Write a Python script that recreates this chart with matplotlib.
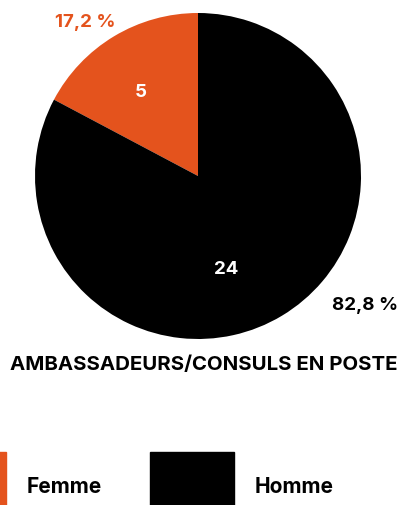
import matplotlib
matplotlib.use('Agg')
import matplotlib.pyplot as plt
from matplotlib.patches import Rectangle

plt.rcParams['font.family'] = ['Inter', 'DejaVu Sans']

# data
labels = ['Femme', 'Homme']
counts = [5, 24]
pcts = ['17,2 %', '82,8 %']
colors = ['#E4531D', '#000000']
title = 'AMBASSADEURS/CONSULS EN POSTE'

W, H = 406, 506
fig = plt.figure(figsize=(W / 100, H / 100), dpi=100)
ax = fig.add_axes([0, 0, 1, 1])

# pie in pixel-like coords (y measured up from the bottom)
cx, cy, r = 198, H - 177, 163
ax.pie(counts, colors=colors, startangle=90, counterclock=True,
       center=(cx, cy), radius=r, frame=True,
       wedgeprops=dict(linewidth=0))

ax.set_xlim(0, W)
ax.set_ylim(0, H)
ax.set_aspect('auto')
ax.axis('off')

# counts inside slices
ax.text(141, H - 92, str(counts[0]), color='white', fontsize=13.5, fontweight='bold',
        ha='center', va='center')
ax.text(226, H - 270, str(counts[1]), color='white', fontsize=13.5, fontweight='bold',
        ha='center', va='center')

# percentages outside
ax.text(85.5, H - 22, pcts[0], color=colors[0], fontsize=13.5, fontweight='bold',
        ha='center', va='center')
ax.text(365.5, H - 305, pcts[1], color=colors[1], fontsize=13.5, fontweight='bold',
        ha='center', va='center')

# title under the pie
ax.text(204, H - 365, title, fontsize=14.7, fontweight='bold', ha='center', va='center')

# legend boxes (cut off at the bottom like the original)
ax.add_patch(Rectangle((-78, -10), 84, H - 453 + 10, color=colors[0], clip_on=False))
ax.text(27, H - 487, labels[0], fontsize=15, fontweight='bold', ha='left', va='center')
ax.add_patch(Rectangle((150, -10), 84, H - 453 + 10, color=colors[1], clip_on=False))
ax.text(255, H - 487, labels[1], fontsize=15, fontweight='bold', ha='left', va='center')

fig.savefig('out.png', dpi=100)
